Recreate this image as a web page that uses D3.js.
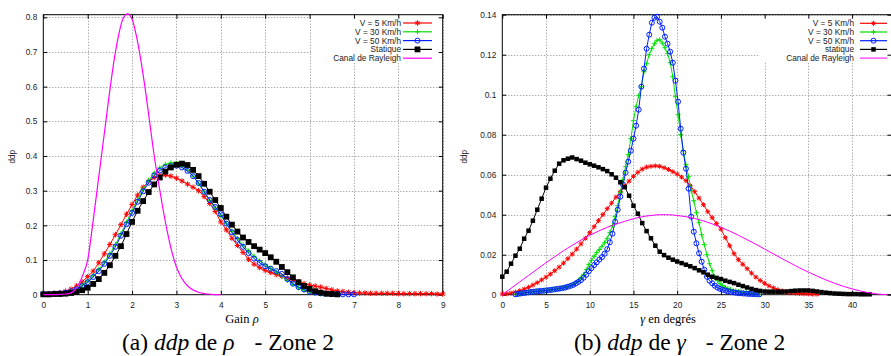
<!DOCTYPE html>
<html>
<head>
<meta charset="utf-8">
<script src="https://cdn.jsdelivr.net/npm/d3@7"></script>
<style>
  body { margin: 0; background: #fff; }
  svg { display: block; }
</style>
</head>
<body>
<svg id="chart" width="891" height="356"></svg>
<script>
// ---- data: (a) ddp of the gain rho, samples every 0.125 from 0 ----
const rhoStep = 0.125;
const rhoV5 = [0.002,0.003,0.004,0.006,0.010,0.016,0.025,0.037,0.052,0.068,0.092,0.118,0.145,0.173,0.202,0.232,0.260,0.287,0.310,0.327,0.338,0.344,0.345,0.342,0.336,0.328,0.319,0.310,0.300,0.283,0.263,0.240,0.210,0.187,0.163,0.142,0.122,0.102,0.088,0.078,0.070,0.064,0.058,0.053,0.048,0.042,0.037,0.032,0.028,0.025,0.022,0.018,0.014,0.011,0.009,0.007,0.006,0.005,0.005,0.004,0.004,0.004,0.004,0.004,0.003,0.003,0.003,0.003,0.003,0.003,0.003,0.002,0.002];
const rhoV30 = [0.002,0.002,0.003,0.004,0.007,0.011,0.018,0.028,0.040,0.055,0.073,0.094,0.118,0.145,0.176,0.209,0.242,0.274,0.304,0.330,0.351,0.366,0.376,0.380,0.378,0.371,0.359,0.342,0.320,0.296,0.272,0.250,0.228,0.205,0.183,0.162,0.143,0.126,0.111,0.098,0.087,0.076,0.065,0.053,0.041,0.030,0.020,0.013,0.008,0.005,0.003,0.002,0.001];
const rhoV50 = [0.002,0.002,0.003,0.004,0.006,0.010,0.016,0.025,0.036,0.051,0.068,0.089,0.112,0.138,0.170,0.203,0.236,0.268,0.298,0.323,0.344,0.358,0.367,0.371,0.372,0.367,0.357,0.342,0.322,0.297,0.273,0.253,0.232,0.205,0.180,0.158,0.138,0.120,0.104,0.092,0.082,0.075,0.068,0.060,0.045,0.032,0.022,0.015,0.009,0.006,0.004,0.003,0.002,0.002,0.001,0.001,0.001];
const rhoStatique = [0.001,0.001,0.002,0.002,0.003,0.005,0.008,0.013,0.020,0.031,0.045,0.063,0.085,0.112,0.140,0.175,0.210,0.242,0.270,0.296,0.318,0.338,0.355,0.367,0.375,0.378,0.374,0.360,0.342,0.320,0.297,0.273,0.250,0.225,0.202,0.182,0.165,0.152,0.140,0.130,0.120,0.108,0.095,0.080,0.065,0.050,0.036,0.025,0.017,0.010,0.006,0.003,0.002,0.001];
// Rayleigh reference, every 0.1 from 0
const rhoRayleighStep = 0.1;
const rhoRayleigh = [0,0,0,0,0.001,0.002,0.004,0.012,0.030,0.060,0.100,0.190,0.290,0.390,0.490,0.590,0.680,0.750,0.797,0.810,0.795,0.745,0.675,0.590,0.495,0.400,0.320,0.245,0.178,0.122,0.080,0.052,0.033,0.020,0.012,0.007,0.004,0.002,0.001,0,0];

const rhoXTicks = [0,1,2,3,4,5,6,7,8,9];
const rhoYTicks = [0,0.1,0.2,0.3,0.4,0.5,0.6,0.7,0.8];
const rhoLabels = ["V = 5 Km/h","V = 30 Km/h","V = 50 Km/h","Statique","Canal de Rayleigh"];

// ---- data: (b) ddp of gamma (degrees) ----
const gammaStep = 0.5;          // statique and V = 5, from 0
const gammaStatique = [0.009,0.0115,0.0155,0.0195,0.023,0.028,0.032,0.037,0.0425,0.048,0.0535,0.058,0.062,0.0655,0.0672,0.068,0.0686,0.0678,0.067,0.066,0.0652,0.0645,0.0637,0.0628,0.0618,0.0602,0.0585,0.0562,0.0538,0.0495,0.0445,0.0405,0.0358,0.0318,0.0282,0.0245,0.0215,0.0198,0.0185,0.0175,0.0166,0.0158,0.0150,0.0142,0.0133,0.0122,0.0112,0.0100,0.0090,0.0084,0.0078,0.0070,0.0064,0.0058,0.0050,0.0043,0.0036,0.0029,0.0023,0.0019,0.0016,0.0015,0.0015,0.0015,0.0015,0.0016,0.0018,0.0020,0.0021,0.0021,0.0021,0.0019,0.0016,0.0013,0.0010,0.0008,0.0006,0.0005,0.0004,0.0003,0.0003,0.0003,0.0002,0.0002,0.0002];
const gammaV5 = [0.0003,0.0005,0.0008,0.0013,0.0020,0.0028,0.0037,0.0048,0.0060,0.0074,0.0088,0.0103,0.0120,0.0138,0.0158,0.0180,0.0203,0.0228,0.0254,0.0282,0.0310,0.0340,0.0370,0.0400,0.0430,0.0458,0.0488,0.0515,0.0542,0.0568,0.0592,0.0612,0.0628,0.0638,0.0642,0.0644,0.0642,0.0635,0.0626,0.0615,0.0603,0.0588,0.0570,0.0545,0.0515,0.0483,0.0450,0.0415,0.0385,0.0355,0.0328,0.0285,0.0245,0.0205,0.0175,0.0152,0.0130,0.0108,0.0088,0.0071,0.0057,0.0044,0.0034,0.0025,0.0019,0.0014,0.0010,0.0008,0.0006,0.0005,0.0004,0.0003,0.0003];
const gammaFineStart = 1.5;     // V = 30 and V = 50, every 0.3
const gammaFineStep = 0.3;
const gammaV30 = [0.0002,0.0004,0.0006,0.0008,0.0010,0.0012,0.0014,0.0015,0.0017,0.0018,0.0019,0.0020,0.0022,0.0023,0.0025,0.0027,0.0029,0.0031,0.0034,0.0037,0.0041,0.0046,0.0052,0.0060,0.0070,0.0084,0.0102,0.0125,0.0150,0.0172,0.0192,0.0210,0.0226,0.0242,0.0260,0.0282,0.0310,0.0345,0.0390,0.0445,0.0510,0.0575,0.0640,0.0700,0.0780,0.0870,0.0940,0.0995,0.1040,0.1115,0.1155,0.1200,0.1230,0.1255,0.1272,0.1275,0.1258,0.1235,0.1205,0.1160,0.1090,0.0990,0.0900,0.0800,0.0720,0.0650,0.0590,0.0520,0.0470,0.0410,0.0360,0.0300,0.0250,0.0200,0.0155,0.0120,0.0090,0.0070,0.0055,0.0045,0.0037,0.0031,0.0026,0.0022,0.0019,0.0016,0.0014,0.0012,0.0010,0.0008,0.0006,0.0005,0.0004,0.0003];
const gammaV50 = [0.0002,0.0004,0.0006,0.0008,0.0010,0.0012,0.0014,0.0015,0.0017,0.0018,0.0019,0.0020,0.0022,0.0023,0.0025,0.0027,0.0029,0.0031,0.0033,0.0036,0.0040,0.0044,0.0049,0.0056,0.0064,0.0073,0.0085,0.0100,0.0118,0.0133,0.0148,0.0162,0.0176,0.0188,0.0205,0.0228,0.0262,0.0305,0.0365,0.0425,0.0490,0.0550,0.0610,0.0665,0.0720,0.0780,0.0845,0.0925,0.1040,0.1130,0.1230,0.1300,0.1360,0.1385,0.1390,0.1365,0.1335,0.1290,0.1255,0.1215,0.1160,0.1070,0.0965,0.0830,0.0710,0.0630,0.0530,0.0390,0.0315,0.0257,0.0207,0.0165,0.0125,0.0090,0.0070,0.0057,0.0045,0.0036,0.0029,0.0025,0.0021,0.0017,0.0014,0.0012,0.0010,0.0008,0.0007,0.0006,0.0005,0.0004,0.0003,0.0003,0.0002,0.0002];
const gammaRayleighStep = 1;    // from 0
const gammaRayleigh = [0,0.0032,0.0064,0.0096,0.0128,0.0160,0.0190,0.0220,0.0247,0.0273,0.0297,0.0318,0.0337,0.0353,0.0367,0.0380,0.0390,0.0396,0.0400,0.0400,0.0396,0.0390,0.0381,0.0369,0.0354,0.0337,0.0318,0.0297,0.0275,0.0252,0.0228,0.0204,0.0180,0.0157,0.0134,0.0113,0.0093,0.0074,0.0057,0.0042,0.0029,0.0018,0.0009,0.0003,0];

const gammaXTicks = [0,5,10,15,20,25,30,35,40];
const gammaYTicks = [0,0.02,0.04,0.06,0.08,0.1,0.12,0.14];
const gammaLabels = ["V = 5 Km/h","V = 30 Km/h","V = 50 Km/h","statique","Canal de Rayleigh"];

// ---- drawing ----
const svg = d3.select("#chart");
const sans = "'Liberation Sans', Arial, sans-serif";
const serif = "'Liberation Serif', 'Times New Roman', serif";

const RED = "#ff0000", GREEN = "#00e000", BLUE = "#0020ff", BLACK = "#000000", MAGENTA = "#ff00ff";

function pts(values, start, step) {
  return values.map((v, i) => [start + i * step, v]);
}

// marker shapes in the gnuplot style
function drawMarks(g, data, kind, color, x, y, s) {
  const sel = g.append("g").selectAll(null).data(data).enter();
  if (kind === "square") {
    sel.append("rect")
      .attr("x", d => x(d[0]) - s / 2).attr("y", d => y(d[1]) - s / 2)
      .attr("width", s).attr("height", s).attr("fill", color);
  } else if (kind === "circle") {
    sel.append("circle")
      .attr("cx", d => x(d[0])).attr("cy", d => y(d[1])).attr("r", s / 2)
      .attr("fill", "none").attr("stroke", color).attr("stroke-width", 1);
  } else if (kind === "plus") {
    const h = s / 2;
    sel.append("path")
      .attr("d", d => `M${x(d[0]) - h},${y(d[1])}h${s}M${x(d[0])},${y(d[1]) - h}v${s}`)
      .attr("stroke", color).attr("stroke-width", 1).attr("fill", "none");
  } else if (kind === "star") {
    const h = s / 2, k = s * 0.36;
    sel.append("path")
      .attr("d", d => {
        const cx = x(d[0]), cy = y(d[1]);
        return `M${cx - h},${cy}h${s}M${cx},${cy - h}v${s}` +
          `M${cx - k},${cy - k}L${cx + k},${cy + k}M${cx - k},${cy + k}L${cx + k},${cy - k}`;
      })
      .attr("stroke", color).attr("stroke-width", 1).attr("fill", "none");
  }
}

function drawPanel(p) {
  const x = d3.scaleLinear().domain(p.xDomain).range([p.left, p.right]);
  const y = d3.scaleLinear().domain(p.yDomain).range([p.bottom, p.top]);
  const g = svg.append("g");

  // dotted grid
  const grid = g.append("g").attr("stroke", "#8a8a8a").attr("stroke-width", 1)
    .attr("stroke-dasharray", "1,2");
  grid.selectAll(null).data(p.xTicks.filter(d => d > p.xDomain[0])).enter().append("line")
    .attr("x1", d => Math.round(x(d)) + 0.5).attr("x2", d => Math.round(x(d)) + 0.5)
    .attr("y1", p.top).attr("y2", p.bottom);
  grid.selectAll(null).data(p.yTicks.filter(d => d > 0)).enter().append("line")
    .attr("y1", d => Math.round(y(d)) + 0.5).attr("y2", d => Math.round(y(d)) + 0.5)
    .attr("x1", p.left).attr("x2", p.right);

  // opaque key box
  g.append("rect").attr("x", p.key.x0).attr("y", p.top + 1)
    .attr("width", p.key.x1 - p.key.x0).attr("height", p.key.y1 - p.top - 1)
    .attr("fill", "#fff");

  // axes: labels bottom/left, mirrored inward ticks everywhere
  const fmt = d3.format("~g");
  const axB = g.append("g").attr("transform", `translate(0,${p.bottom})`)
    .call(d3.axisBottom(x).tickValues(p.xTicks).tickSize(-4).tickPadding(7).tickFormat(fmt));
  const axL = g.append("g").attr("transform", `translate(${p.left},0)`)
    .call(d3.axisLeft(y).tickValues(p.yTicks).tickSize(-4).tickPadding(6).tickFormat(fmt));
  const axT = g.append("g").attr("transform", `translate(0,${p.top})`)
    .call(d3.axisTop(x).tickValues(p.xTicks).tickSize(-4).tickFormat(""));
  const axR = g.append("g").attr("transform", `translate(${p.frameRight},0)`)
    .call(d3.axisRight(y).tickValues(p.yTicks).tickSize(-4).tickFormat(""));
  [axB, axL, axT, axR].forEach(a => {
    a.select(".domain").remove();
    a.selectAll("line").attr("stroke", "#000");
    a.selectAll("text").attr("font-family", sans).attr("font-size", 8.3).attr("fill", "#222");
  });

  g.append("rect").attr("x", p.left).attr("y", p.top)
    .attr("width", p.frameRight - p.left).attr("height", p.bottom - p.top)
    .attr("fill", "none").attr("stroke", "#000").attr("stroke-width", 1);

  // series
  const plot = g.append("g");
  const line = d3.line().x(d => x(d[0])).y(d => y(d[1]));
  p.series.forEach(s => {
    plot.append("path").datum(s.data)
      .attr("d", s.smooth ? line.curve(d3.curveMonotoneX)(s.data) : line.curve(d3.curveLinear)(s.data))
      .attr("fill", "none").attr("stroke", s.color).attr("stroke-width", s.width || 1);
    if (s.mark) drawMarks(plot, s.data, s.mark, s.color, x, y, s.size);
  });

  // key
  const key = g.append("g");
  p.series.forEach((s, i) => {
    const ky = p.key.rowY + i * p.key.rowH;
    key.append("text").attr("x", p.key.textX).attr("y", ky).attr("dy", "0.35em")
      .attr("text-anchor", "end").attr("font-family", sans).attr("font-size", 8.3)
      .attr("fill", "#222").text(s.label);
    key.append("line").attr("x1", p.key.lx0).attr("x2", p.key.lx1)
      .attr("y1", ky).attr("y2", ky).attr("stroke", s.color).attr("stroke-width", s.width || 1.2);
    if (s.mark) {
      const kx = d3.scaleLinear().domain([0, 1]).range([(p.key.lx0 + p.key.lx1) / 2, (p.key.lx0 + p.key.lx1) / 2 + 1]);
      const kyS = d3.scaleLinear().domain([0, 1]).range([ky, ky + 1]);
      drawMarks(key, [[0, 0]], s.mark, s.color, kx, kyS, s.size);
    }
  });

  // y title
  g.append("text")
    .attr("transform", `translate(${p.yTitleX},${(p.top + p.bottom) / 2 + 2}) rotate(-90)`)
    .attr("text-anchor", "middle").attr("font-family", sans).attr("font-size", 8.3)
    .attr("fill", "#222").text("ddp");

  return { x, y };
}

drawPanel({
  left: 43.3, right: 442.7, frameRight: 442.7, top: 14.7, bottom: 294.7,
  xDomain: [0, 9], yDomain: [0, 0.8075],
  xTicks: rhoXTicks, yTicks: rhoYTicks, yTitleX: 15,
  key: { x0: 311, x1: 442, y1: 63, textX: 401, lx0: 403, lx1: 432, rowY: 23, rowH: 8.8 },
  series: [
    { label: rhoLabels[0], data: pts(rhoV5, 0, rhoStep), color: RED, mark: "star", size: 5.5 },
    { label: rhoLabels[1], data: pts(rhoV30, 0, rhoStep), color: GREEN, mark: "plus", size: 5 },
    { label: rhoLabels[2], data: pts(rhoV50, 0, rhoStep), color: BLUE, mark: "circle", size: 5 },
    { label: rhoLabels[3], data: pts(rhoStatique, 0, rhoStep), color: BLACK, mark: "square", size: 5.8 },
    { label: rhoLabels[4], data: pts(rhoRayleigh, 0, rhoRayleighStep), color: MAGENTA, smooth: true, width: 1.2 }
  ]
});

drawPanel({
  left: 502.3, right: 891, frameRight: 891.5, top: 14.7, bottom: 294.7,
  xDomain: [0, 44.45], yDomain: [0, 0.14],
  xTicks: gammaXTicks, yTicks: gammaYTicks, yTitleX: 467,
  key: { x0: 760, x1: 891, y1: 63, textX: 854, lx0: 860, lx1: 887, rowY: 23.3, rowH: 8.7 },
  series: [
    { label: gammaLabels[0], data: pts(gammaV5, 0, gammaStep), color: RED, mark: "star", size: 5 },
    { label: gammaLabels[1], data: pts(gammaV30, gammaFineStart, gammaFineStep), color: GREEN, mark: "plus", size: 5 },
    { label: gammaLabels[2], data: pts(gammaV50, gammaFineStart, gammaFineStep), color: BLUE, mark: "circle", size: 5 },
    { label: gammaLabels[3], data: pts(gammaStatique, 0, gammaStep), color: BLACK, mark: "square", size: 4.5 },
    { label: gammaLabels[4], data: pts(gammaRayleigh, 0, gammaRayleighStep), color: MAGENTA, smooth: true, width: 1 }
  ]
});

// axis titles and captions (serif, as in the document)
function richText(x, yb, size, parts, anchor) {
  const t = svg.append("text").attr("x", x).attr("y", yb)
    .attr("font-family", serif).attr("font-size", size).attr("fill", "#000")
    .attr("text-anchor", anchor || "middle");
  parts.forEach(pt => {
    const ts = t.append("tspan").text(pt.t);
    if (pt.i) ts.attr("font-style", "italic");
    if (pt.dx) ts.attr("dx", pt.dx);
  });
  return t;
}

richText(242, 323, 12.5, [{ t: "Gain " }, { t: "ρ", i: true }]);
richText(668, 323, 12.5, [{ t: "γ", i: true }, { t: " en degrés" }]);
richText(122, 350, 23.5, [{ t: "(a) " }, { t: "ddp", i: true }, { t: " de " }, { t: "ρ", i: true }, { t: "- Zone 2", dx: 20 }], "start");
richText(574, 350, 23.5, [{ t: "(b) " }, { t: "ddp", i: true }, { t: " de " }, { t: "γ", i: true }, { t: "- Zone 2", dx: 20 }], "start");
</script>
</body>
</html>
